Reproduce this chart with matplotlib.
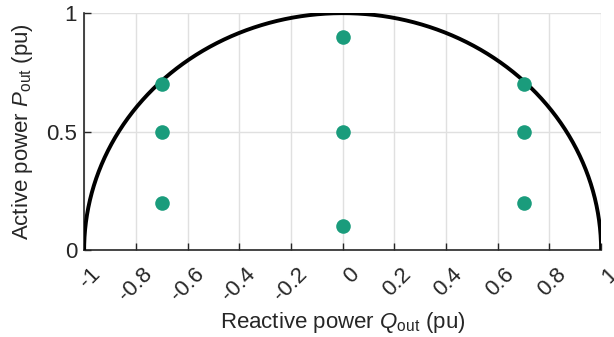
import numpy as np
import matplotlib
matplotlib.use('Agg')
import matplotlib.pyplot as plt
from matplotlib.transforms import ScaledTranslation

plt.rcParams['font.family'] = ['Liberation Sans', 'DejaVu Sans']
plt.rcParams['mathtext.fontset'] = 'custom'
plt.rcParams['mathtext.rm'] = 'Liberation Sans'
plt.rcParams['mathtext.it'] = 'Liberation Sans:italic'
plt.rcParams['axes.unicode_minus'] = False

# operating points (Q, P)
q_pts = [-0.7, -0.7, -0.7, 0.0, 0.0, 0.0, 0.7, 0.7, 0.7]
p_pts = [0.7, 0.5, 0.2, 0.9, 0.5, 0.1, 0.7, 0.5, 0.2]

x_ticks = [-1, -0.8, -0.6, -0.4, -0.2, 0, 0.2, 0.4, 0.6, 0.8, 1]
x_labels = ['-1', '-0.8', '-0.6', '-0.4', '-0.2', '0', '0.2', '0.4', '0.6', '0.8', '1']
y_ticks = [0, 0.5, 1]
y_labels = ['0', '0.5', '1']

fig = plt.figure(figsize=(6.14, 3.37), dpi=100)
ax = fig.add_axes([0.137, 0.258, 0.842, 0.703])

th = np.linspace(0, np.pi, 400)
ax.plot(np.cos(th), np.sin(th), color='black', lw=2.8, zorder=3, solid_capstyle='butt')
ax.plot(q_pts, p_pts, 'o', color='#1a9c7c', ms=10.5, mec='none', zorder=4, clip_on=False)

ax.set_xlim(-1, 1)
ax.set_ylim(0, 1)
ax.set_xticks(x_ticks)
ax.set_xticklabels(x_labels, rotation=45, ha='right', va='top', rotation_mode='anchor')
ax.set_yticks(y_ticks)
ax.set_yticklabels(y_labels)
ax.tick_params(direction='in', labelsize=16, length=5, width=1, colors='#262626', pad=5)
ax.tick_params(axis='x', pad=10)
# shift rotated labels a bit to the right, like the original
off = ScaledTranslation(6 / 100, 0, fig.dpi_scale_trans)
for lab in ax.get_xticklabels():
    lab.set_transform(lab.get_transform() + off)
ax.grid(True, color='#e0e0e0', lw=1)
ax.set_axisbelow(True)
for s in ['top', 'right']:
    ax.spines[s].set_visible(False)
for s in ['left', 'bottom']:
    ax.spines[s].set_linewidth(1.2)
    ax.spines[s].set_color('#262626')

ax.set_xlabel('Reactive power $\\mathit{Q}_\\mathrm{out}$ (pu)', fontsize=16, color='#262626', labelpad=3)
ax.set_ylabel('Active power $\\mathit{P}_\\mathrm{out}$ (pu)', fontsize=16, color='#262626', labelpad=8)

fig.savefig('out.png', dpi=100)
